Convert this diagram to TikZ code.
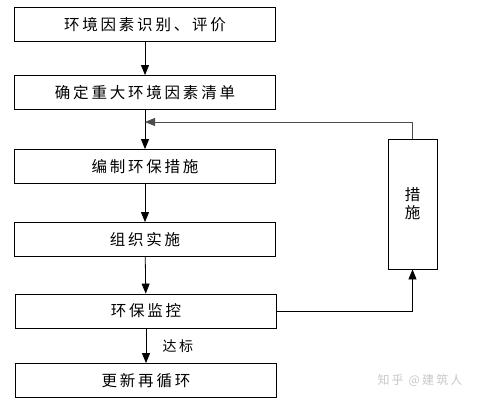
\documentclass[tikz,border=0pt]{standalone}
\usepackage{fontspec}
\newfontfamily\cjk[LetterSpace=18]{Noto Sans CJK SC}
\usetikzlibrary{arrows.meta}
\begin{document}
\begin{tikzpicture}[x=1pt,y=-1pt,
  flowbox/.style={draw=black,line width=0.8pt,minimum width=261pt,minimum height=34pt,inner sep=0pt,font=\cjk\fontsize{15.5}{17}\selectfont},
  conn/.style={line width=0.8pt,-{Triangle[width=8pt,length=10pt]}},
  lbl/.style={font=\cjk\fontsize{14}{16}\selectfont}]
\useasboundingbox (0,0) rectangle (478,401);
\node[flowbox] (b1) at (145,24.5) {环境因素识别、评价};
\node[flowbox] (b2) at (145,92.5) {确定重大环境因素清单};
\node[flowbox] (b3) at (145,166.5) {编制环保措施};
\node[flowbox] (b4) at (145,239.5) {组织实施};
\node[flowbox] (b5) at (146,311) {环保监控};
\node[flowbox] (b6) at (146,380.5) {更新再循环};
\node[draw=black,line width=0.8pt,minimum width=49pt,minimum height=130pt,inner sep=0pt,align=center,font=\cjk\fontsize{15.5}{18}\selectfont] (m) at (412.5,204) {措\\施};
\coordinate (j) at (145,122);
\draw[conn] (b1) -- (b2);
\draw[conn] (b2) -- (b3);
\draw[conn] (b3) -- (b4);
\draw[conn] (b4) -- (b5);
\draw[conn] (b5) -- node[lbl,right=13pt] (l) {达标} (b6);
\draw[conn] (b5.east) -| (m.south);
\draw[conn,draw=black!70] (m.north) |- (j);
\node[font=\cjk\fontsize{12}{14}\selectfont,text=black!22] (w) at (420,380) {知乎 @建筑人};
\end{tikzpicture}
\end{document}
